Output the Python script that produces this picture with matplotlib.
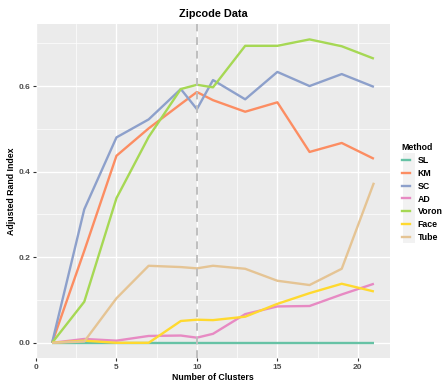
import matplotlib
matplotlib.use("Agg")
import matplotlib.pyplot as plt
from matplotlib.lines import Line2D
from matplotlib.patches import Rectangle
from matplotlib.ticker import MultipleLocator

plt.rcParams['font.family'] = ['Liberation Sans', 'DejaVu Sans']

clusters = [1, 3, 5, 7, 9, 10, 11, 13, 15, 17, 19, 21]
methods = ["SL", "KM", "SC", "AD", "Voron", "Face", "Tube"]
colors = ["#66C2A5", "#FC8D62", "#8DA0CB", "#E78AC3", "#A6D854", "#FFD92F", "#E5C494"]

ari_sl = [0, 0, 0, 0, 0, 0, 0, 0, 0, 0, 0, 0]
ari_km = [0, 0.215, 0.437, 0.501, 0.558, 0.586, 0.567, 0.540, 0.562, 0.446, 0.467, 0.430]
ari_sc = [0, 0.312, 0.480, 0.522, 0.593, 0.546, 0.614, 0.569, 0.633, 0.600, 0.628, 0.598]
ari_ad = [0, 0.009, 0.005, 0.016, 0.017, 0.012, 0.021, 0.067, 0.085, 0.086, 0.113, 0.138]
ari_voron = [0, 0.096, 0.338, 0.481, 0.593, 0.603, 0.597, 0.694, 0.694, 0.709, 0.693, 0.664]
ari_face = [0, 0.005, 0.0, 0.0, 0.051, 0.054, 0.053, 0.061, 0.091, 0.116, 0.138, 0.120]
ari_tube = [0, 0.003, 0.104, 0.180, 0.177, 0.174, 0.180, 0.173, 0.145, 0.135, 0.173, 0.374]
series = [ari_sl, ari_km, ari_sc, ari_ad, ari_voron, ari_face, ari_tube]

chosen_k = 10

fig = plt.figure(figsize=(4.47, 3.81), dpi=100)
ax = fig.add_axes([36 / 447, 1 - 358 / 381, (390 - 36) / 447, (358 - 24) / 381])
ax.set_facecolor("#EBEBEB")
for s in ax.spines.values():
    s.set_visible(False)

ax.xaxis.set_major_locator(MultipleLocator(5))
ax.xaxis.set_minor_locator(MultipleLocator(2.5))
ax.yaxis.set_major_locator(MultipleLocator(0.2))
ax.yaxis.set_minor_locator(MultipleLocator(0.1))
ax.grid(which="major", color="white", lw=1.0)
ax.grid(which="minor", color="white", lw=0.5)
ax.set_axisbelow(True)
ax.tick_params(which="minor", length=0)
ax.tick_params(which="major", length=2.5, width=0.8, color="#333333",
               labelsize=6.0, labelcolor="#4D4D4D", pad=1.5)

handles = []
for name, vals, c in zip(methods, series, colors):
    ax.plot(clusters, vals, color=c, lw=1.7, solid_capstyle="butt", zorder=3)
    handles.append(Line2D([], [], color=c, lw=1.7, label=name))

ax.axvline(chosen_k, color="#BEBEBE", lw=1.4, ls=(0, (4, 3)), zorder=4)

ax.set_xlim(0, 22)
ax.set_ylim(-0.0355, 0.745)
ax.set_yticks([0, 0.2, 0.4, 0.6])
ax.set_yticklabels(["0.0", "0.2", "0.4", "0.6"])
for lbl in ax.get_xticklabels() + ax.get_yticklabels():
    lbl.set_fontweight("bold")

ax.set_title("Zipcode Data", fontsize=7.8, fontweight="bold", pad=5)
ax.set_xlabel("Number of Clusters", fontsize=6.3, fontweight="bold", labelpad=1.5)
ax.set_ylabel("Adjusted Rand Index", fontsize=6.3, fontweight="bold", labelpad=2)

fig.patches.append(Rectangle((402.5 / 447, 1 - 243 / 381), 12.5 / 447, (243 - 153) / 381,
                             transform=fig.transFigure, facecolor="#F2F2F2",
                             edgecolor="none", zorder=0))
leg = fig.legend(handles=handles, title="Method", loc="upper left",
                 bbox_to_anchor=(400 / 447, 1 - 141 / 381), frameon=False,
                 fontsize=6.3, title_fontproperties={"weight": "bold", "size": 6.3},
                 handlelength=0.9, handletextpad=0.9, labelspacing=0.45,
                 borderaxespad=0, borderpad=0.2)
leg._legend_box.align = "left"
for t in leg.get_texts():
    t.set_fontweight("bold")

fig.savefig("out.png", dpi=100)
